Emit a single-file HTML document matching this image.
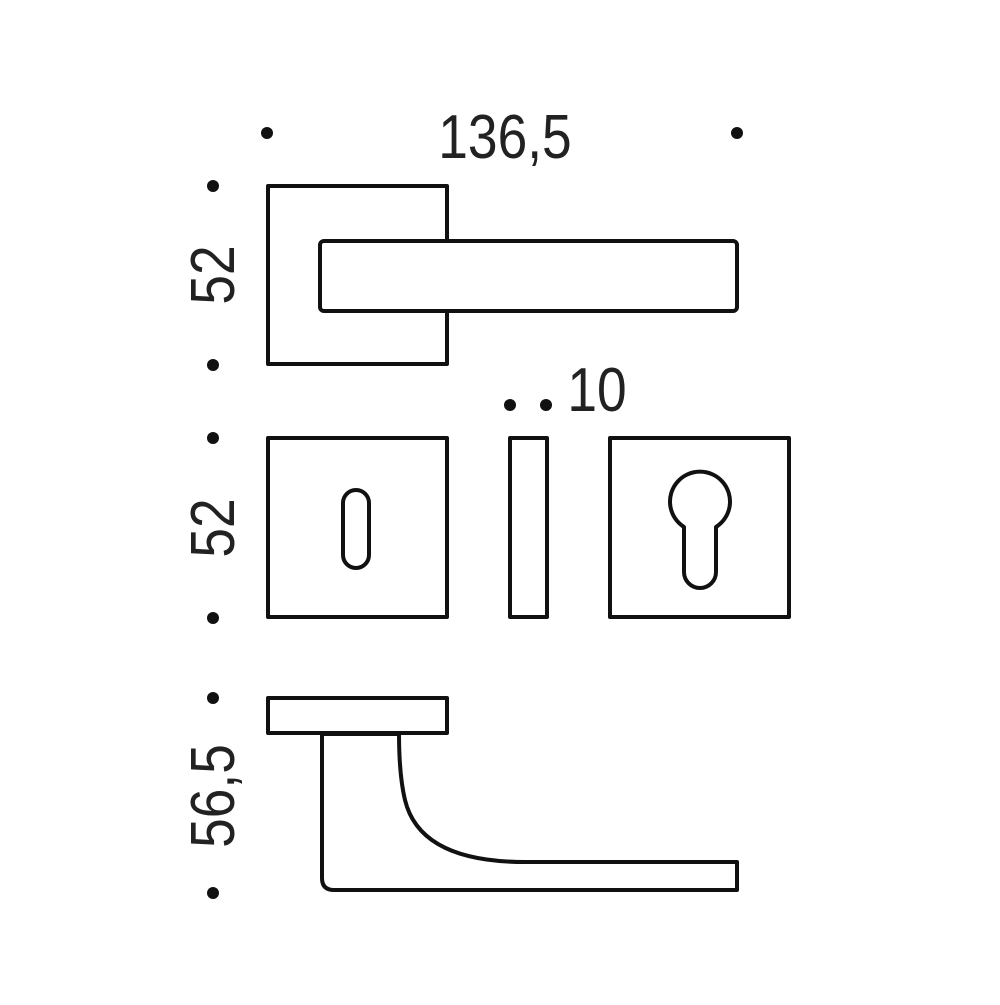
<!DOCTYPE html>
<html><head><style>body{margin:0;background:#fff}</style></head><body>
<svg width="1000" height="1000" viewBox="0 0 1000 1000" xmlns="http://www.w3.org/2000/svg">
<g fill="#111">
<circle cx="267" cy="133" r="6"/><circle cx="737" cy="133" r="6"/>
<circle cx="213" cy="186" r="6"/><circle cx="213" cy="365" r="6"/>
<circle cx="213" cy="438" r="6"/><circle cx="213" cy="618" r="6"/>
<circle cx="213" cy="698" r="6"/><circle cx="213" cy="893" r="6"/>
<circle cx="510" cy="405" r="6"/><circle cx="546" cy="405" r="6"/>
</g>
<g font-family="Liberation Sans, sans-serif" font-size="62" fill="#222">
<text x="505" y="158" text-anchor="middle" transform="translate(505 0) scale(0.86 1) translate(-505 0)">136,5</text>
<text x="597" y="411" text-anchor="middle" transform="translate(597 0) scale(0.86 1) translate(-597 0)">10</text>
<text transform="translate(234 275) rotate(-90) scale(0.86 1)" text-anchor="middle">52</text>
<text transform="translate(234 528) rotate(-90) scale(0.86 1)" text-anchor="middle">52</text>
<text transform="translate(234 796) rotate(-90) scale(0.86 1)" text-anchor="middle">56,5</text>
</g>
<g fill="none" stroke="#111" stroke-width="4" stroke-linejoin="round">
<path d="M447 241 V186 H268 V364 H447 V311"/>
<rect x="320" y="241" width="417" height="70" rx="4"/>
<rect x="268" y="438" width="179" height="179"/>
<rect x="510" y="438" width="37" height="179"/>
<rect x="610" y="438" width="179" height="179"/>
<rect x="343" y="490" width="26" height="78" rx="13"/>
<path d="M684 527 A30 30 0 1 1 716 527 V572 A16 16 0 0 1 684 572 Z"/>
<rect x="268" y="698" width="179" height="35"/>
<path d="M322 733 V878 Q322 890 334 890 H737 V862 H525 Q420 862 405 800 Q399 775 399 733"/>
</g>
<rect x="322" y="732" width="77" height="4" fill="#111"/>
</svg>
</body></html>
